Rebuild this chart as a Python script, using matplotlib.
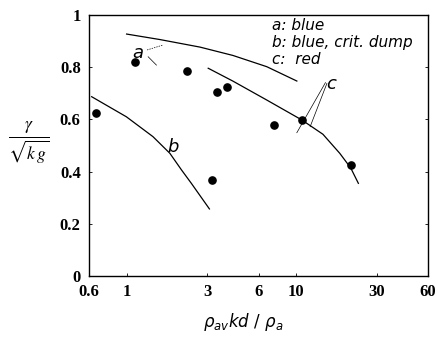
import numpy as np
import matplotlib
matplotlib.use("Agg")
import matplotlib.pyplot as plt

# measured points
pts_x = [0.657, 1.12, 2.26, 3.40, 3.93, 7.41, 10.8, 21.0, 3.20]
pts_y = [0.626, 0.819, 0.787, 0.705, 0.725, 0.579, 0.598, 0.424, 0.368]

# curve a: blue
a_x = [1.00, 1.57, 2.71, 4.24, 6.71, 10.1]
a_y = [0.927, 0.906, 0.877, 0.845, 0.802, 0.747]

# curve b: blue, crit. dump
b_x = [0.622, 0.997, 1.43, 1.80, 2.11, 2.41, 3.08]
b_y = [0.687, 0.610, 0.534, 0.470, 0.406, 0.355, 0.257]

# curve c: red
c_x = [3.03, 4.23, 6.68, 10.8, 14.4, 18.1, 21.0, 23.3]
c_y = [0.796, 0.747, 0.675, 0.598, 0.543, 0.470, 0.414, 0.355]

xticks = [0.6, 1, 3, 6, 10, 30, 60]
xticklabels = ['0.6', '1', '3', '6', '10', '30', '60']
yticks = [0, 0.2, 0.4, 0.6, 0.8, 1]
yticklabels = ['0', '0.2', '0.4', '0.6', '0.8', '1']

legend_lines = ['a: blue', 'b: blue, crit. dump', 'c:  red']

fig = plt.figure(figsize=(4.38, 3.38), dpi=100)
ax = fig.add_axes([89/438, 62/338, 339/438, 261/338])

ax.plot(a_x, a_y, 'k-', lw=0.9)
ax.plot(b_x, b_y, 'k-', lw=0.9)
ax.plot(c_x, c_y, 'k-', lw=0.9)
ax.plot(pts_x, pts_y, 'ko', ms=5.2)

ax.set_xscale('log')
ax.set_xlim(0.6, 60)
ax.set_ylim(0, 1)
ax.set_xticks(xticks)
ax.set_xticklabels(xticklabels)
ax.minorticks_off()
ax.set_yticks(yticks)
ax.set_yticklabels(yticklabels)
ax.tick_params(direction='in', length=2.5, width=0.6, top=False, right=True, pad=6)
for lab in ax.get_xticklabels() + ax.get_yticklabels():
    lab.set_fontfamily('Liberation Serif')
    lab.set_fontweight('bold')
    lab.set_fontsize(12)
for s in ax.spines.values():
    s.set_linewidth(1.0)

# curve labels and leaders
ax.text(1.17, 0.856, 'a', fontsize=13, style='italic', ha='center', va='center')
ax.plot([1.32, 1.64], [0.866, 0.885], 'k--', lw=0.5, dashes=(2, 1.5))
ax.plot([1.34, 1.50], [0.840, 0.808], 'k-', lw=0.5)
ax.text(1.89, 0.495, 'b', fontsize=13, style='italic', ha='center', va='center')
ax.text(16.0, 0.735, 'c', fontsize=13, style='italic', ha='center', va='center')
ax.plot([14.9, 10.1], [0.741, 0.549], 'k-', lw=0.5)
ax.plot([15.2, 12.1], [0.738, 0.572], 'k-', lw=0.5)

for i, t in enumerate(legend_lines):
    fig.text(272/438, (338 - 30.5 - 16.8*i)/338, t, fontsize=11, style='italic',
             family='DejaVu Sans', va='baseline', ha='left')

fig.text(29/438, 1 - 143/338, r'$\frac{\gamma}{\sqrt{k\,g}}$', fontsize=18,
         ha='center', va='center', math_fontfamily='stix')
fig.text(243/438, 1 - 322/338, r'$\rho_{av}kd\ /\ \rho_a$', fontsize=12,
         ha='center', va='center', math_fontfamily='dejavusans')

fig.savefig('out.png', dpi=100)
